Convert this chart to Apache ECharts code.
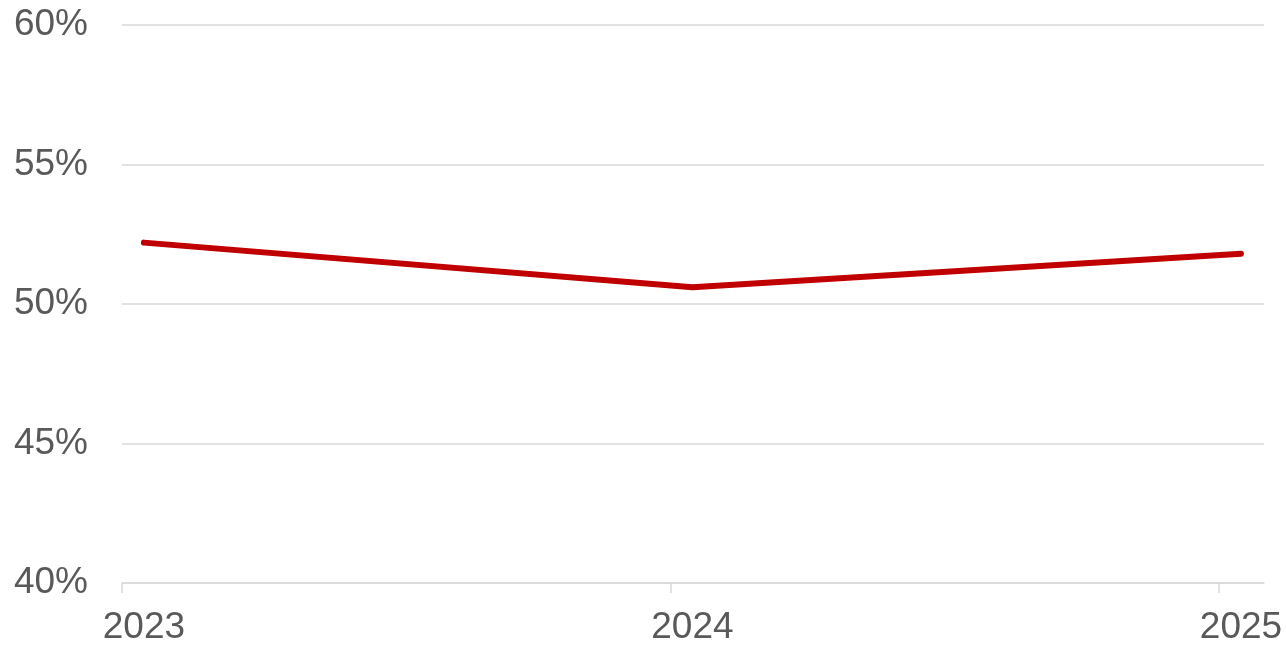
<!DOCTYPE html>
<html>
<head>
<meta charset="utf-8">
<script src="https://cdn.jsdelivr.net/npm/echarts@6/dist/echarts.min.js"></script>
<style>
html,body{margin:0;padding:0;background:#fff;}
#chart{width:1286px;height:646px;}
</style>
</head>
<body>
<div id="chart"></div>
<script>
const years = [2023, 2024, 2025];
const values = [52.2, 50.6, 51.8];
const yTicks = [40, 45, 50, 55, 60];

const chart = echarts.init(document.getElementById('chart'));
const font = 'Liberation Sans, Arial, sans-serif';
chart.setOption({
  animation: false,
  backgroundColor: '#ffffff',
  grid: { left: 122, right: 22, top: 25, bottom: 61, containLabel: false },
  xAxis: {
    type: 'value',
    min: 2022.96,
    max: 2025.042,
    splitLine: { show: false },
    axisLine: { show: true, lineStyle: { color: '#d9d9d9', width: 1.5 } },
    axisTick: { show: true, length: 10, lineStyle: { color: '#d9d9d9', width: 1.5 },
                customValues: [2022.96, 2023.96, 2024.96] },
    axisLabel: {
      customValues: years,
      formatter: v => String(Math.round(v)),
      color: '#595959', fontSize: 37, fontFamily: font, margin: 26
    }
  },
  yAxis: {
    type: 'value',
    min: yTicks[0],
    max: yTicks[yTicks.length - 1],
    interval: 5,
    axisLine: { show: false },
    axisTick: { show: false },
    splitLine: { show: true, lineStyle: { color: '#d9d9d9', width: 1.5 } },
    axisLabel: { formatter: '{value}%', color: '#595959', fontSize: 37, fontFamily: font, margin: 34,
                 padding: [4, 0, 0, 0] }
  },
  series: [{
    type: 'line',
    data: years.map((y, i) => [y, values[i]]),
    symbol: 'none',
    lineStyle: { color: '#C00000', width: 6, cap: 'round', join: 'round' }
  }]
});
</script>
</body>
</html>
